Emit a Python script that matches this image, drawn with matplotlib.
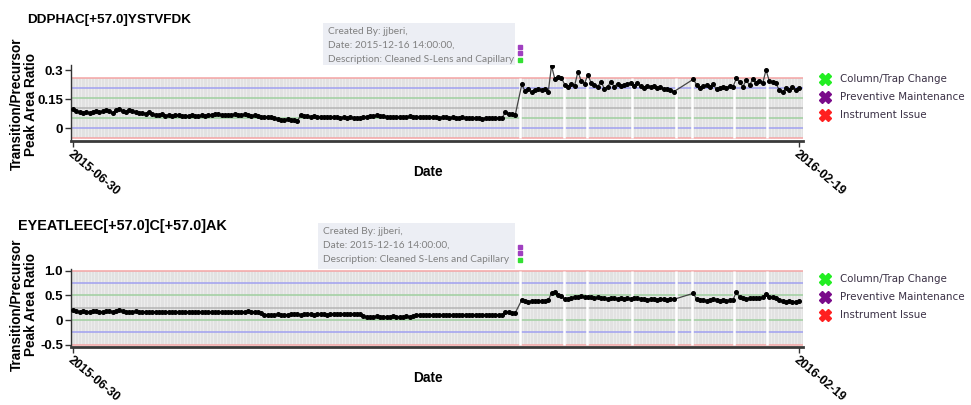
import numpy as np
import matplotlib
matplotlib.use("Agg")
import matplotlib.pyplot as plt
from matplotlib.lines import Line2D
from matplotlib.patches import Rectangle

W, H = 971, 405

# run numbers where each data segment starts (gaps between segments)
seg_starts = [0, 136, 188]
last_run = 220
date_labels = ["2015-06-30", "2016-02-19"]
event_runs = [135.5, 148.8, 155.8, 169.4, 182.7, 187.6, 200.2, 210.3]

# ---- peptide 1 ----
top_title = "DDPHAC[+57.0]YSTVFDK"
top_mean, top_sd = 0.105, 0.052
top_seg1 = [0.100, 0.088, 0.082, 0.080, 0.084, 0.079, 0.086, 0.090, 0.083, 0.088, 0.095, 0.087,
            0.080, 0.092, 0.100, 0.088, 0.083, 0.095, 0.090, 0.084, 0.078, 0.081, 0.076,
            0.085, 0.075, 0.070, 0.068, 0.072, 0.066, 0.069, 0.064, 0.067, 0.070, 0.065, 0.066,
            0.063, 0.068, 0.066, 0.064, 0.067, 0.065,
            0.067, 0.070, 0.074, 0.072, 0.069, 0.071, 0.068, 0.070, 0.073, 0.071, 0.069, 0.072,
            0.070, 0.066, 0.068,
            0.062, 0.060, 0.058, 0.061, 0.057,
            0.052, 0.048, 0.045, 0.043, 0.046, 0.041, 0.044, 0.038,
            0.068, 0.064, 0.062, 0.060, 0.063, 0.059, 0.061,
            0.058, 0.057, 0.059, 0.056, 0.058, 0.055, 0.057, 0.054, 0.056, 0.055, 0.053, 0.055,
            0.056, 0.060, 0.066, 0.062, 0.068, 0.063, 0.066,
            0.060, 0.058, 0.061, 0.059, 0.057, 0.060, 0.058, 0.062, 0.059, 0.057, 0.060, 0.058,
            0.061, 0.056, 0.058, 0.057, 0.055, 0.058, 0.056, 0.054, 0.057,
            0.055, 0.053, 0.056, 0.052, 0.054, 0.051, 0.055, 0.053, 0.050, 0.054, 0.052, 0.055,
            0.051, 0.053, 0.054,
            0.082, 0.074, 0.072, 0.068]
top_seg2 = [0.226,
            0.190, 0.200, 0.185, 0.195, 0.200, 0.198, 0.205,
            0.185, 0.322, 0.255, 0.265, 0.260, 0.225, 0.215, 0.230, 0.220, 0.290, 0.245, 0.230,
            0.275, 0.235,
            0.225, 0.215, 0.240, 0.205, 0.215, 0.240, 0.215, 0.230, 0.218, 0.225, 0.228, 0.235,
            0.220, 0.232, 0.218, 0.210, 0.220, 0.214, 0.218, 0.208, 0.212, 0.205, 0.200, 0.195,
            0.188]
top_seg3 = [0.253,
            0.223, 0.206, 0.218, 0.223, 0.211, 0.228, 0.200, 0.206, 0.214, 0.210, 0.218, 0.214,
            0.257,
            0.240, 0.214, 0.248, 0.223, 0.252, 0.235, 0.245, 0.232,
            0.300,
            0.243, 0.240, 0.232, 0.197, 0.185, 0.206, 0.197, 0.214, 0.197, 0.206]

# ---- peptide 2 ----
bot_title = "EYEATLEEC[+57.0]C[+57.0]AK"
bot_mean, bot_sd = 0.25, 0.25
bot_seg1 = [0.20, 0.18, 0.17, 0.175, 0.165, 0.17, 0.18, 0.175, 0.17, 0.165,
            0.175, 0.18, 0.17, 0.19, 0.21, 0.18, 0.17, 0.165, 0.17, 0.175,
            0.17, 0.165, 0.17, 0.16, 0.165, 0.17, 0.165, 0.16, 0.165, 0.17,
            0.165, 0.16, 0.155, 0.16, 0.165, 0.16, 0.155, 0.16, 0.165, 0.16,
            0.155, 0.16, 0.165, 0.17, 0.16, 0.155, 0.16, 0.165, 0.16, 0.155,
            0.16, 0.165, 0.17, 0.175, 0.17, 0.165, 0.16, 0.15,
            0.10, 0.11, 0.105, 0.11, 0.115, 0.11, 0.105, 0.11, 0.115, 0.12,
            0.115, 0.11, 0.115, 0.12, 0.115, 0.11, 0.115, 0.12, 0.115, 0.11,
            0.115, 0.12, 0.125, 0.12, 0.115, 0.12, 0.115, 0.12, 0.125, 0.12,
            0.075, 0.07, 0.065, 0.07, 0.075, 0.07, 0.065, 0.07, 0.068, 0.072,
            0.07, 0.065, 0.07, 0.075, 0.07, 0.072,
            0.095, 0.10, 0.105, 0.10, 0.095, 0.10, 0.105, 0.10, 0.098, 0.102,
            0.10, 0.095, 0.10, 0.105, 0.10, 0.098, 0.10, 0.102, 0.10, 0.095,
            0.10, 0.105, 0.10, 0.098, 0.10, 0.102, 0.10,
            0.17, 0.155, 0.15, 0.145]
bot_seg2 = [0.41,
            0.38, 0.375, 0.385, 0.38, 0.39, 0.385, 0.39,
            0.40, 0.55, 0.58, 0.50, 0.49, 0.42, 0.43,
            0.45, 0.47, 0.46, 0.48, 0.46, 0.47, 0.46,
            0.45, 0.46, 0.44, 0.45, 0.43, 0.44, 0.45, 0.43, 0.44, 0.42, 0.44, 0.43, 0.45,
            0.44, 0.42, 0.43, 0.41, 0.43, 0.42, 0.41, 0.43, 0.42, 0.41, 0.42, 0.42]
bot_seg3 = [0.545,
            0.42, 0.40, 0.41, 0.39, 0.40, 0.42, 0.40, 0.39, 0.41, 0.38, 0.40, 0.41,
            0.57,
            0.47, 0.44, 0.43, 0.44, 0.45, 0.44, 0.45, 0.46,
            0.54,
            0.47, 0.46, 0.44, 0.40, 0.38, 0.37, 0.38, 0.36, 0.37, 0.38]

note_lines = ["Created By: jjberi,", "Date: 2015-12-16 14:00:00,",
              "Description: Cleaned S-Lens and Capillary"]
legend_labels = ["Column/Trap Change", "Preventive Maintenance", "Instrument Issue"]
legend_colors = ["#22ee22", "#7a0a8a", "#ff2020"]


def fx(px):
    return px / W


def fy(py):
    return 1 - py / H


fig = plt.figure(figsize=(W / 100, H / 100), dpi=100)
bold = dict(family="Liberation Sans", fontweight="bold")

panels = [
    dict(title=top_title, tx=27, ty=20, tsize=9.7, ax_top=65, ax_bot=141, ylim=(-0.065, 0.326),
         yticks=[0, 0.15, 0.3], ylab=["0", "0.15", "0.3"], mean=top_mean, sd=top_sd,
         segs=[top_seg1, top_seg2, top_seg3], dy=0, label_y=104, date_y=172, text_x=328),
    dict(title=bot_title, tx=18, ty=226, tsize=10.4, ax_top=269, ax_bot=347, ylim=(-0.55, 1.04),
         yticks=[-0.5, 0, 0.5, 1.0], ylab=["-0.5", "0", "0.5", "1.0"], mean=bot_mean, sd=bot_sd,
         segs=[bot_seg1, bot_seg2, bot_seg3], dy=200, label_y=305, date_y=378, text_x=323),
]

x_left, x_right = 71.35, 803.3

for p in panels:
    ax = fig.add_axes([fx(x_left), fy(p["ax_bot"]), fx(x_right - x_left),
                       (p["ax_bot"] - p["ax_top"]) / H])
    m, s = p["mean"], p["sd"]
    lo, hi = m - 3 * s, m + 3 * s
    ax.axhspan(lo, hi, color="#e2e2e2", lw=0, zorder=0)
    ax.vlines(np.arange(-0.5, last_run + 1.5, 1), lo, hi, colors="#eeeeee", lw=0.6, zorder=0.5)
    for k, c in [(0, "#b4b4b4"), (1, "#9fcf9f"), (-1, "#9fcf9f"), (2, "#a0a0f0"),
                 (-2, "#a0a0f0"), (3, "#f4a4a4"), (-3, "#f4a4a4")]:
        ax.axhline(m + k * s, color=c, lw=1.1, zorder=1)
    for r in event_runs:
        ax.vlines(r, lo, hi, colors="white", lw=1.8, zorder=1.5)

    xs, ys = [], []
    for start, seg in zip(seg_starts, p["segs"]):
        xs.extend(range(start, start + len(seg)))
        ys.extend(seg)
    ax.plot(xs, ys, color="#444444", lw=0.9, marker="o", ms=2.6, mfc="black",
            mec="black", zorder=3)

    ax.set_xlim(-0.5, 221.3)
    ax.set_ylim(*p["ylim"])
    ax.set_facecolor("white")
    for sp in ["top", "right"]:
        ax.spines[sp].set_visible(False)
    ax.spines["left"].set_color("#333333")
    ax.spines["left"].set_linewidth(1)
    ax.spines["bottom"].set_color("#3a3a3a")
    ax.spines["bottom"].set_linewidth(2)
    ax.set_yticks(p["yticks"])
    ax.set_yticklabels(p["ylab"], fontsize=9.5, **bold)
    ax.set_xticks([0, last_run])
    ax.set_xticklabels(date_labels, fontsize=8.8, rotation=-40, ha="left", va="top",
                       rotation_mode="anchor", **bold)
    ax.tick_params(direction="out", length=4, width=1, colors="#333333", labelcolor="black",
                   pad=2)
    ax.tick_params(axis="x", pad=1)

    fig.text(fx(p["tx"]), fy(p["ty"]), p["title"], fontsize=p["tsize"], ha="left",
             va="center", **bold)
    fig.text(fx(24), fy(p["label_y"]), "Transition/Precursor\nPeak Area Ratio", rotation=90,
             ha="center", va="center", ma="center", fontsize=9.8, linespacing=1.0, **bold)
    fig.text(fx(428), fy(p["date_y"]), "Date", fontsize=9.9, ha="center", va="center", **bold)

    dy = p["dy"]
    box_bottom = 67 if dy == 0 else 272
    fig.add_artist(Rectangle((fx(p["text_x"] - 5), fy(box_bottom)), fx(515 - p["text_x"] + 5),
                             (box_bottom - (25 + dy - 2)) / H, transform=fig.transFigure,
                             facecolor="#eceef4", edgecolor="none", zorder=0))
    for i, line in enumerate(note_lines):
        fig.text(fx(p["text_x"]), fy(32 + dy + i * 13.5), line, fontsize=7.3, family="Lato",
                 color="#808080", ha="left", va="center")
    for yy, c in [(47.3, "#a040c0"), (53.3, "#a040c0"), (59.7, "#33e033")]:
        fig.add_artist(Line2D([fx(520)], [fy(yy + dy)], marker="s", ms=2.6, color=c, lw=0,
                              transform=fig.transFigure))

    for i, (lab, c) in enumerate(zip(legend_labels, legend_colors)):
        yy = 79 + dy + i * 18
        fig.add_artist(Line2D([fx(825)], [fy(yy)], marker="X", ms=9, color=c, mec=c, lw=0,
                              transform=fig.transFigure))
        fig.text(fx(840), fy(yy), lab, fontsize=7.4, family="DejaVu Sans", color="#3a3045",
                 ha="left", va="center")

fig.savefig("out.png", dpi=100)
